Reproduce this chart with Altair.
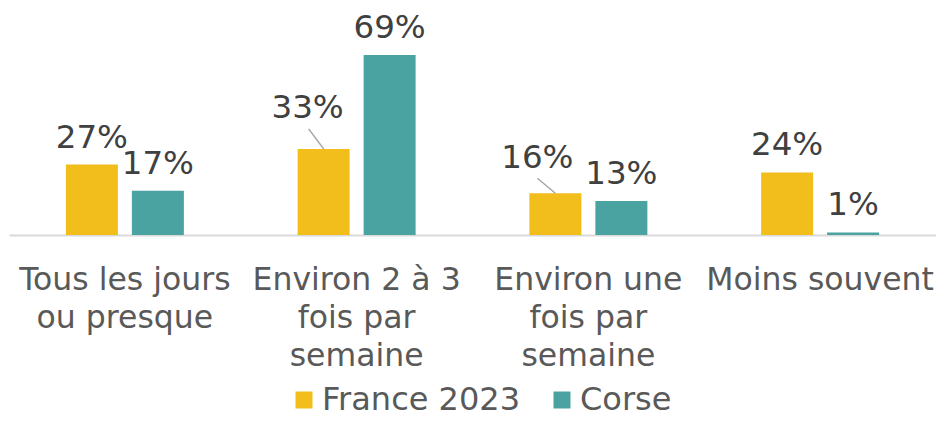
import altair as alt
import pandas as pd

FONT = "DejaVu Sans"

CATEGORIES = [
    "Tous les jours|ou presque",
    "Environ 2 à 3|fois par|semaine",
    "Environ une|fois par|semaine",
    "Moins souvent",
]
SERIES = ["France 2023", "Corse"]
FRANCE = [27, 33, 16, 24]
CORSE = [17, 69, 13, 1]
COLORS = ["#F1BE1B", "#4AA3A0"]
# labels that are moved aside with a leader line (category, series) -> nudge id
NUDGED = {
    ("Environ 2 à 3|fois par|semaine", "France 2023"): 1,
    ("Environ une|fois par|semaine", "France 2023"): 2,
}

rows = []
for i, c in enumerate(CATEGORIES):
    for s, vals in zip(SERIES, [FRANCE, CORSE]):
        rows.append({
            "cat": c,
            "series": s,
            "value": vals[i],
            "label": f"{vals[i]}%",
            "nudge": NUDGED.get((c, s), 0),
        })
df = pd.DataFrame(rows)

x = alt.X(
    "cat:N",
    sort=CATEGORIES,
    scale=alt.Scale(domain=CATEGORIES, paddingInner=0, paddingOuter=0),
    axis=alt.Axis(
        title=None,
        labelAngle=0,
        labelExpr="split(datum.label, '|')",
        ticks=False,
        grid=False,
        domainColor="#D9D9D9",
        domainWidth=2,
        labelFont=FONT,
        labelFontSize=31.5,
        labelColor="#595959",
        labelPadding=29,
        labelLineHeight=38,
        labelLimit=0,
    ),
)
xo = alt.XOffset(
    "series:N",
    sort=SERIES,
    scale=alt.Scale(domain=SERIES, paddingInner=0.212, paddingOuter=0.862),
)
y = alt.Y("value:Q", scale=alt.Scale(domain=[0, 69], nice=False, zero=True), axis=None)

color = alt.Color(
    "series:N",
    sort=SERIES,
    scale=alt.Scale(domain=SERIES, range=COLORS),
    legend=alt.Legend(
        title=None,
        orient="none",
        legendX=279,
        legendY=329,
        direction="horizontal",
        symbolType="square",
        symbolSize=289,
        symbolStrokeWidth=0,
        labelFont=FONT,
        labelFontSize=32,
        labelColor="#595959",
        labelOffset=2,
        columnPadding=25,
        labelLimit=400,
    ),
)

base = alt.Chart(df)

bars = base.mark_bar().encode(x=x, xOffset=xo, y=y, color=color)

text_style = dict(font=FONT, fontSize=32.5, color="#404040", baseline="alphabetic")

labels = base.transform_filter("datum.nudge == 0").mark_text(dy=-17, **text_style).encode(
    x=x, xOffset=xo, y=y, text="label:N"
)
labels1 = base.transform_filter("datum.nudge == 1").mark_text(dx=-16, dy=-31, **text_style).encode(
    x=x, xOffset=xo, y=y, text="label:N"
)
labels2 = base.transform_filter("datum.nudge == 2").mark_text(dx=-18, dy=-25, **text_style).encode(
    x=x, xOffset=xo, y=y, text="label:N"
)

leader1 = base.transform_filter("datum.nudge == 1").mark_rule(
    color="#A6A6A6", strokeWidth=1.5, x2Offset=-48, y2Offset=-20
).encode(x=x, xOffset=xo, y=y, x2=alt.X2("cat:N"), y2=alt.Y2("value:Q"))
leader2 = base.transform_filter("datum.nudge == 2").mark_rule(
    color="#A6A6A6", strokeWidth=1.5, x2Offset=-51, y2Offset=-15
).encode(x=x, xOffset=xo, y=y, x2=alt.X2("cat:N"), y2=alt.Y2("value:Q"))

chart = (
    alt.layer(bars, leader1, leader2, labels, labels1, labels2)
    .properties(
        width=927,
        height=180,
        autosize=alt.AutoSizeParams(type="none"),
        padding={"left": 1, "top": 47, "right": 0, "bottom": 183},
        background="white",
    )
    .configure_view(stroke=None)
)

chart.save("out.html", embed_options={"renderer": "svg", "actions": False})
